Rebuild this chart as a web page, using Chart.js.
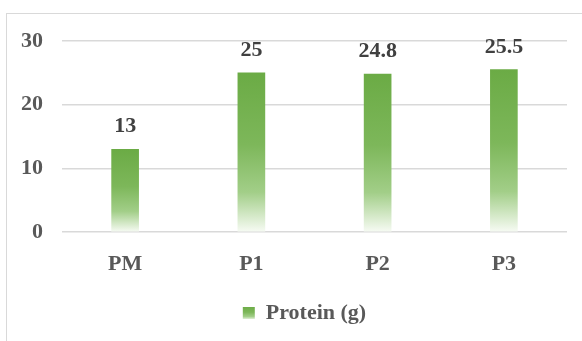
<!DOCTYPE html>
<html>
<head>
<meta charset="utf-8">
<script src="https://cdn.jsdelivr.net/npm/chart.js@4/dist/chart.umd.min.js"></script>
<style>
  html, body { margin: 0; padding: 0; background: #fff; overflow: hidden; }
  #frame {
    position: absolute; left: 6px; top: 13px; width: 700px; height: 400px;
    border-left: 1px solid #D9D9D9; border-top: 1px solid #D9D9D9;
  }
  #wrap { position: absolute; left: 0; top: 0; width: 582px; height: 341px; }
</style>
</head>
<body>
<div id="frame"></div>
<div id="wrap"><canvas id="proteinChart" width="582" height="341"></canvas></div>
<script>
// === Data ===
const categories = ["PM", "P1", "P2", "P3"];
const proteinValues = [13, 25, 24.8, 25.5];
const yTicks = [0, 10, 20, 30];
const seriesLabel = "Protein (g)";

// === Styles ===
const FONT = "'Liberation Serif', 'Times New Roman', serif";
const GREEN = "#6BAB45";
const GRID = "#D9D9D9";
const LEGEND_SHIFT = 21; // the original frame is wider than the crop, so its legend sits right of centre

function barGradient(ctx, top, bottom) {
  const g = ctx.createLinearGradient(0, top, 0, bottom);
  g.addColorStop(0, "#6BAB45");
  g.addColorStop(0.45, "#7DB75A");
  g.addColorStop(0.75, "#A2CE88");
  g.addColorStop(1, "#F7FBF4");
  return g;
}

// draws value labels above each bar
const valueLabels = {
  id: "valueLabels",
  afterDatasetsDraw(chart) {
    const ctx = chart.ctx;
    const meta = chart.getDatasetMeta(0);
    ctx.save();
    ctx.font = "bold 22px " + FONT;
    ctx.fillStyle = "#404040";
    ctx.textAlign = "center";
    ctx.textBaseline = "alphabetic";
    meta.data.forEach((bar, i) => {
      ctx.fillText(String(proteinValues[i]), bar.x, bar.y - 17);
    });
    ctx.restore();
  }
};

// moves the legend and gives its swatch a gradient
const legendTweak = {
  id: "legendTweak",
  afterLayout(chart) {
    const legend = chart.legend;
    if (!legend) return;
    legend.left += LEGEND_SHIFT;
    legend.right += LEGEND_SHIFT;
  },
  beforeDraw(chart) {
    const legend = chart.legend;
    if (!legend || !legend.legendItems || !legend.legendItems.length) return;
    const boxTop = legend.top + 10 + 5;
    legend.legendItems[0].fillStyle = barGradient(chart.ctx, boxTop - 1, boxTop + 13);
  }
};

new Chart(document.getElementById("proteinChart"), {
  type: "bar",
  data: {
    labels: categories,
    datasets: [{
      label: seriesLabel,
      data: proteinValues,
      barThickness: 27,
      borderWidth: 0,
      backgroundColor: (c) => {
        const chart = c.chart;
        if (!chart.chartArea || c.type !== "data") return GREEN;
        const y = chart.scales.y;
        return barGradient(chart.ctx, y.getPixelForValue(c.raw), y.getPixelForValue(0));
      }
    }]
  },
  options: {
    responsive: false,
    animation: false,
    devicePixelRatio: 1,
    layout: { padding: { left: 0, right: 15, top: 41, bottom: 7 } },
    scales: {
      x: {
        grid: { display: false, drawTicks: false },
        border: { display: false },
        ticks: { color: "#595959", padding: 19, font: { family: FONT, size: 22, weight: "bold" } },
        afterFit(scale) { scale.height = 60; }
      },
      y: {
        min: 0,
        max: 30,
        afterBuildTicks(scale) { scale.ticks = yTicks.map(v => ({ value: v })); },
        grid: { color: GRID, lineWidth: 1.5, drawTicks: false },
        border: { display: false },
        ticks: { color: "#595959", padding: 19, font: { family: FONT, size: 22, weight: "bold" } },
        afterFit(scale) { scale.width = 62; }
      }
    },
    plugins: {
      legend: {
        position: "bottom",
        labels: {
          color: "#595959",
          boxWidth: 12,
          boxHeight: 12,
          padding: 10,
          font: { family: FONT, size: 22, weight: "bold" }
        }
      },
      tooltip: { enabled: false }
    }
  },
  plugins: [valueLabels, legendTweak]
});
</script>
</body>
</html>
